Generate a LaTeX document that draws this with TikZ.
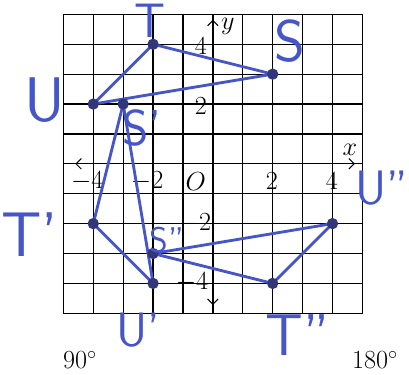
\documentclass[tikz,border=0pt]{standalone}
\usepackage{tikz}
\usetikzlibrary{arrows.meta}
\definecolor{penblue}{RGB}{70,85,200}
\definecolor{dotnavy}{RGB}{50,55,120}

\begin{document}
\begin{tikzpicture}[
  gridline/.style={black, line width=1.2pt},
  axis/.style={black, line width=1pt,
               {Straight Barb[length=5pt]}-{Straight Barb[length=5pt]}},
  side/.style={penblue, line width=2.7pt, line join=round},
  dot/.style={fill=dotnavy},
  ticklbl/.style={font=\fontsize{23}{26}\selectfont, inner sep=0pt},
  hand/.style={text=penblue, font=\sffamily\fontsize{#1}{#1}\selectfont, inner sep=0pt},
  hand/.default=48,
  rotlbl/.style={font=\fontsize{25}{30}\selectfont, inner sep=0pt}
]
\useasboundingbox (-7.12,-7.06) rectangle (6.56,5.48);

% Grid and axes
\draw[gridline] (-5,-5) grid (5,5);
\draw[line width=1.5pt] (-5,-5) rectangle (5,5);
\coordinate (xl) at (-4.6,0);
\coordinate (xr) at (4.75,0);
\coordinate (yb) at (0,-4.72);
\coordinate (yt) at (0,4.82);
\draw[axis] (xl) -- (xr);
\draw[axis] (yb) -- (yt);
\node[ticklbl] (ylbl) at (0.5,4.58) {$y$};
\node[ticklbl] (xlbl) at (4.58,0.47) {$x$};

% Tick labels
\node[ticklbl] (xm4) at (-4.2,-0.58) {$-4$};
\node[ticklbl] (xm2) at (-2.2,-0.58) {$-2$};
\node[ticklbl] (orig) at (-0.57,-0.58) {$O$};
\node[ticklbl] (xp2) at (1.97,-0.58) {$2$};
\node[ticklbl] (xp4) at (3.98,-0.58) {$4$};
\node[ticklbl] (yp4) at (-0.4,3.95) {$4$};
\node[ticklbl] (yp2) at (-0.4,1.94) {$2$};
\node[ticklbl] (ym2) at (-0.6,-1.97) {$-2$};
\node[ticklbl] (ym4) at (-0.7,-3.97) {$-4$};

% Vertices
\coordinate (T) at (-2,4);
\coordinate (S) at (2,3);
\coordinate (U) at (-4,2);
\coordinate (T1) at (-4,-2);
\coordinate (S1) at (-3,2);
\coordinate (U1) at (-2,-4);
\coordinate (T2) at (2,-4);
\coordinate (S2) at (-2,-3);
\coordinate (U2) at (4,-2);

% Triangles
\draw[side] (T) -- (S) -- (U) -- cycle;
\draw[side] (S1) -- (T1) -- (U1) -- cycle;
\draw[side] (S2) -- (U2) -- (T2) -- cycle;
\foreach \p in {T,S,U,T1,S1,U1,T2,S2,U2}
  \fill[dot] (\p) circle (0.19);

% Handwritten names
\node[hand=46] (nT) at (-2.1,4.78) {T};
\node[hand=56] (nS) at (2.58,4.09) {S};
\node[hand=60] (nU) at (-5.62,2.14) {U};
\node[hand=48] (nS1) at (-2.37,1.2) {S'};
\node[hand=60] (nT1) at (-6.12,-2.37) {T'};
\node[hand=34] (nS2) at (-1.54,-2.54) {S''};
\node[hand=46] (nU2) at (5.65,-0.8) {U''};
\node[hand=46] (nU1) at (-2.5,-5.55) {U'};
\node[hand=56] (nT2) at (2.84,-5.72) {T''};

% Angle captions
\node[rotlbl] (r90) at (-4.45,-6.56) {$90^\circ$};
\node[rotlbl] (r180) at (5.42,-6.56) {$180^\circ$};

\end{tikzpicture}
\end{document}
